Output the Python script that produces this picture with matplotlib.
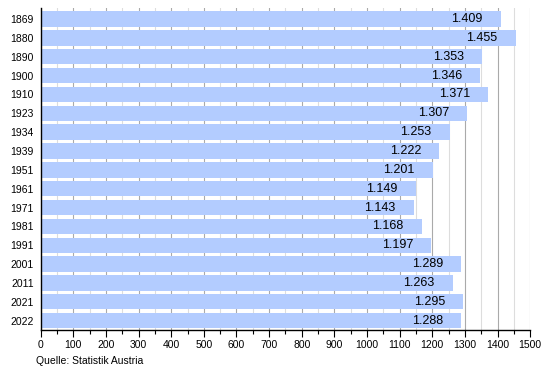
import matplotlib
matplotlib.use("Agg")
import matplotlib.pyplot as plt
from matplotlib.ticker import MultipleLocator

years = ["1869", "1880", "1890", "1900", "1910", "1923", "1934", "1939", "1951",
         "1961", "1971", "1981", "1991", "2001", "2011", "2021", "2022"]
values = [1409, 1455, 1353, 1346, 1371, 1307, 1253, 1222, 1201,
          1149, 1143, 1168, 1197, 1289, 1263, 1295, 1288]
labels = ["1.409", "1.455", "1.353", "1.346", "1.371", "1.307", "1.253", "1.222", "1.201",
          "1.149", "1.143", "1.168", "1.197", "1.289", "1.263", "1.295", "1.288"]

plt.rcParams['font.family'] = ['Liberation Sans', 'DejaVu Sans']

fig = plt.figure(figsize=(5.5, 3.7), dpi=100)
ax = fig.add_axes([0.074, 0.108, 0.89, 0.87])

pos = list(range(len(years)))
ax.barh(pos, values, height=0.82, color='#b3ccff', zorder=2)
for p, v, l in zip(pos, values, labels):
    ax.annotate(l, xy=(v, p), xytext=(-13, 0), textcoords='offset points',
                ha='right', va='center', fontsize=9, color='#000000', zorder=3)

ax.set_xlim(0, 1500)
ax.set_ylim(len(years) - 0.5, -0.58)
ax.set_yticks(pos)
ax.set_yticklabels(years)
ax.tick_params(axis='y', length=0, labelsize=7.5, pad=5)
ax.xaxis.set_major_locator(MultipleLocator(100))
ax.xaxis.set_minor_locator(MultipleLocator(50))
ax.tick_params(axis='x', which='major', length=5, width=0.8, labelsize=7.5, pad=2)
ax.tick_params(axis='x', which='minor', length=3, width=0.8)
ax.grid(axis='x', which='major', color='#aaaaaa', linewidth=0.8, zorder=0)
ax.grid(axis='x', which='minor', color='#dddddd', linewidth=0.8, zorder=0)
ax.set_axisbelow(True)
for s in ['top', 'right']:
    ax.spines[s].set_visible(False)
ax.spines['left'].set_linewidth(1.0)
ax.spines['bottom'].set_linewidth(1.0)

fig.text(36 / 550, 1 - 361 / 370, "Quelle: Statistik Austria", fontsize=7.5, ha='left', va='center')

fig.savefig("out.png", dpi=100)
